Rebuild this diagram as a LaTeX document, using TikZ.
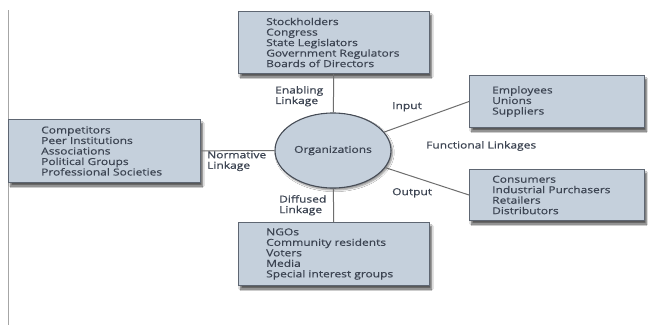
\documentclass[tikz,border=0pt]{standalone}
\usepackage{fontspec}
\usetikzlibrary{shapes.geometric,shadows.blur}
\newfontfamily\diagfont[FakeStretch=1.25,FakeBold=0.6]{Open Sans}
\definecolor{boxfill}{HTML}{C5D0DC}
\definecolor{boxline}{HTML}{5E6672}
\definecolor{inktext}{HTML}{3C4452}
\definecolor{linkline}{HTML}{6E6E6E}
\tikzset{
  x=1pt, y=-1pt,
  every node/.style={font=\diagfont\fontsize{9.6}{10.5}\selectfont, text=inktext},
  groupbox/.style={draw=boxline, line width=1pt, fill=boxfill, anchor=north west,
    inner sep=0pt,
    blur shadow={shadow xshift=2pt, shadow yshift=-3.5pt, shadow blur steps=6, shadow opacity=65}},
  grouplist/.style={anchor=west, align=left, inner sep=0pt},
  linklabel/.style={align=left, inner sep=0pt, anchor=north west},
  link/.style={draw=linkline, line width=1pt},
  orgnode/.style={ellipse, draw=boxline!75!black, line width=1.1pt, fill=boxfill,
    minimum width=116pt, minimum height=75pt, inner sep=0pt,
    blur shadow={shadow xshift=1.5pt, shadow yshift=-2pt, shadow blur steps=5, shadow opacity=45}}
}
\begin{document}
\begin{tikzpicture}
\useasboundingbox[fill=white] (0,0) rectangle (648,327);

% left margin rule
\coordinate (ruletop) at (8,10);
\coordinate (rulebot) at (8,325);
\draw[draw=gray!70, line width=0.8pt] (ruletop) -- (rulebot);

% stakeholder groups
\node[groupbox, minimum width=191pt, minimum height=62pt] (enable) at (238,11) {};
\node[grouplist] (enabletxt) at ([xshift=28pt]enable.west)
  {Stockholders\\Congress\\State Legislators\\Government Regulators\\Boards of Directors};

\node[groupbox, minimum width=192pt, minimum height=63pt] (norm) at (8,119) {};
\node[grouplist] (normtxt) at ([xshift=33pt]norm.west)
  {Competitors\\Peer Institutions\\Associations\\Political Groups\\Professional Societies};

\node[groupbox, minimum width=175pt, minimum height=52pt] (inputs) at (469,75) {};
\node[grouplist] (inputstxt) at ([xshift=23pt]inputs.west)
  {Employees\\Unions\\Suppliers};

\node[groupbox, minimum width=175pt, minimum height=51pt] (outputs) at (469,169) {};
\node[grouplist] (outputstxt) at ([xshift=23pt]outputs.west)
  {Consumers\\Industrial Purchasers\\Retailers\\Distributors};

\node[groupbox, minimum width=191pt, minimum height=63pt] (diffuse) at (238,222) {};
\node[grouplist] (diffusetxt) at ([xshift=28pt]diffuse.west)
  {NGOs\\Community residents\\Voters\\Media\\Special interest groups};

% the organization
\node[orgnode] (org) at (333,150.5) {Organizations};

% linkages
\draw[link] (enable) -- (org);
\draw[link] (diffuse) -- (org);
\draw[link] (norm) -- (org);
\draw[link] (org) -- (inputs.west);
\draw[link] (org) -- (outputs.west);

% linkage labels
\node[linklabel] (enablelbl) at (275,86) {Enabling\\Linkage};
\node[linklabel] (normlbl) at (207,151) {Normative\\Linkage};
\node[linklabel] (difflbl) at (279,195) {Diffused\\Linkage};
\node[linklabel] (inlbl) at (392,102) {Input};
\node[linklabel] (outlbl) at (392,188) {Output};
\node[linklabel] (funclbl) at (426,141) {Functional Linkages};
\end{tikzpicture}
\end{document}
